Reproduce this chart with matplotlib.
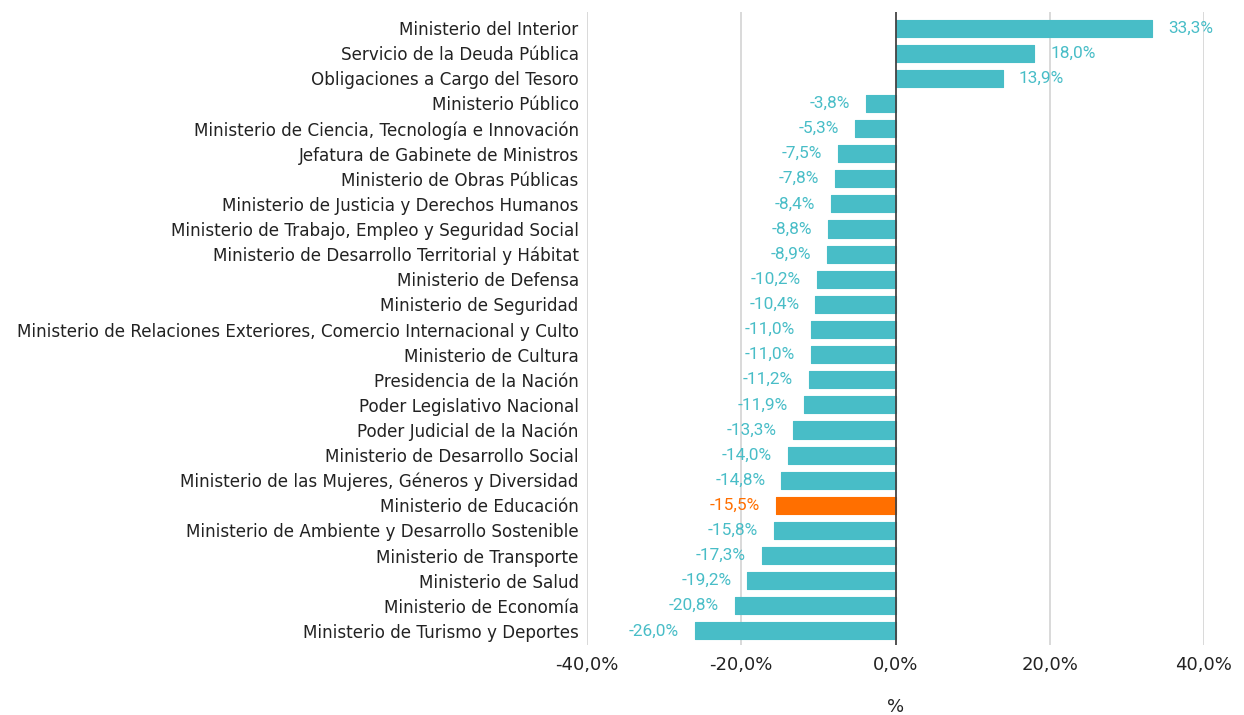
import matplotlib
matplotlib.use("Agg")
import matplotlib.pyplot as plt
from matplotlib.ticker import FuncFormatter

categories = [
    "Ministerio del Interior",
    "Servicio de la Deuda Pública",
    "Obligaciones a Cargo del Tesoro",
    "Ministerio Público",
    "Ministerio de Ciencia, Tecnología e Innovación",
    "Jefatura de Gabinete de Ministros",
    "Ministerio de Obras Públicas",
    "Ministerio de Justicia y Derechos Humanos",
    "Ministerio de Trabajo, Empleo y Seguridad Social",
    "Ministerio de Desarrollo Territorial y Hábitat",
    "Ministerio de Defensa",
    "Ministerio de Seguridad",
    "Ministerio de Relaciones Exteriores, Comercio Internacional y Culto",
    "Ministerio de Cultura",
    "Presidencia de la Nación",
    "Poder Legislativo Nacional",
    "Poder Judicial de la Nación",
    "Ministerio de Desarrollo Social",
    "Ministerio de las Mujeres, Géneros y Diversidad",
    "Ministerio de Educación",
    "Ministerio de Ambiente y Desarrollo Sostenible",
    "Ministerio de Transporte",
    "Ministerio de Salud",
    "Ministerio de Economía",
    "Ministerio de Turismo y Deportes",
]
values = [33.3, 18.0, 13.9, -3.8, -5.3, -7.5, -7.8, -8.4, -8.8, -8.9, -10.2, -10.4,
          -11.0, -11.0, -11.2, -11.9, -13.3, -14.0, -14.8, -15.5, -15.8, -17.3,
          -19.2, -20.8, -26.0]
highlight = "Ministerio de Educación"
x_ticks = [-40, -20, 0, 20, 40]
x_label = "%"

teal = "#48BDC7"
orange = "#FF6F00"

fig = plt.figure(figsize=(12.44, 7.15), dpi=100)
W, H = 1244, 715
left, right, top, bottom = 587, 1204, 12, 645
ax = fig.add_axes([left / W, 1 - bottom / H, (right - left) / W, (bottom - top) / H])

ypos = list(range(len(categories)))
colors = [orange if c == highlight else teal for c in categories]
ax.barh(ypos, values, height=0.68, color=colors, edgecolor=colors,
        linewidth=0.8, joinstyle="round", zorder=3)

ax.set_xlim(-40, 40)
ax.set_ylim(24.56, -0.64)
ax.set_yticks(ypos)
ax.set_yticklabels(categories, fontsize=12.1, color="#222222", family="DejaVu Sans")
ax.tick_params(axis="y", length=0, pad=6)

ax.set_xticks(x_ticks)
ax.xaxis.set_major_formatter(FuncFormatter(lambda v, p: f"{v:.1f}%".replace(".", ",")))
ax.tick_params(axis="x", length=0, pad=8, labelsize=13, labelcolor="#222222")
for lab in ax.get_xticklabels():
    lab.set_family("DejaVu Sans")

fig.text((896) / W, 1 - 707 / H, x_label, ha="center", va="center",
         fontsize=13, color="#222222", family="DejaVu Sans")

for s in ax.spines.values():
    s.set_visible(False)

for t in x_ticks:
    if t == 0:
        ax.axvline(0, color="#444444", linewidth=1.3, zorder=4)
    else:
        ax.axvline(t, color="#D3D3D3", linewidth=1.2, zorder=1)

for y, v, c in zip(ypos, values, colors):
    txt = f"{v:.1f}%".replace(".", ",")
    if v >= 0:
        ax.annotate(txt, (v, y), xytext=(16, 0), textcoords="offset pixels",
                    ha="left", va="center", color=c, fontsize=12.4, family="Roboto")
    else:
        ax.annotate(txt, (v, y), xytext=(-16, 0), textcoords="offset pixels",
                    ha="right", va="center", color=c, fontsize=12.4, family="Roboto")

fig.savefig("out.png", dpi=100, facecolor="white")
